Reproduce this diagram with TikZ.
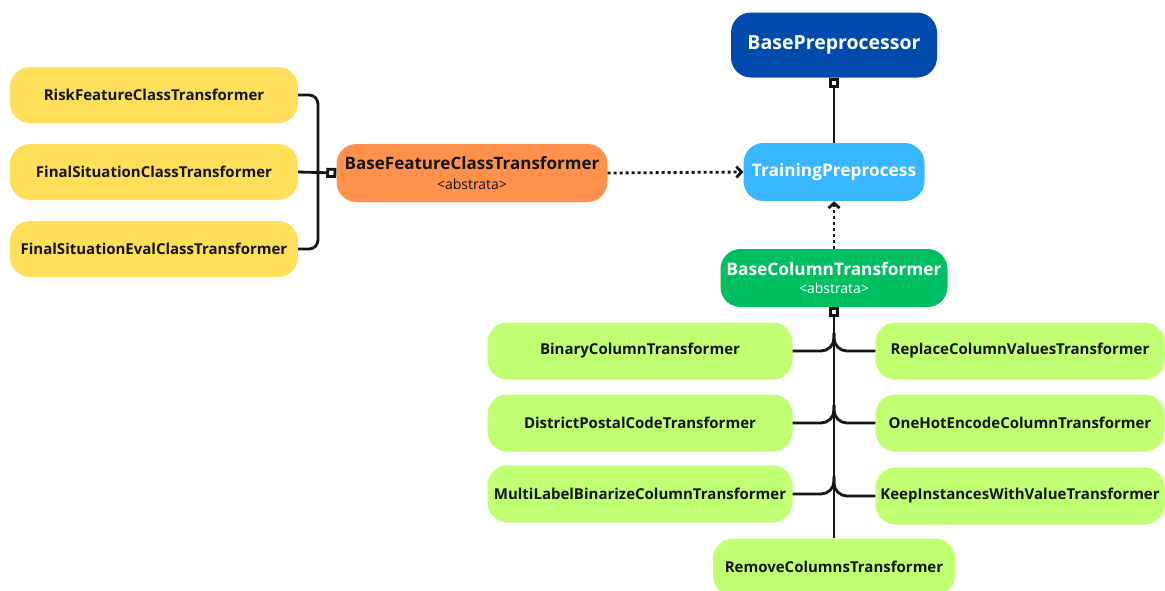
\documentclass[tikz,border=0pt]{standalone}
\usepackage{fontspec}
\setmainfont{Open Sans}
\usetikzlibrary{arrows.meta}
\definecolor{cyellow}{HTML}{FFDE59}
\definecolor{corange}{HTML}{FF914D}
\definecolor{cnavy}{HTML}{004AAD}
\definecolor{csky}{HTML}{38B6FF}
\definecolor{cgreen}{HTML}{00BF63}
\definecolor{clime}{HTML}{C1FF72}
\definecolor{cink}{HTML}{141414}

\begin{document}
\begin{tikzpicture}[x=1pt, y=-1pt, >={Straight Barb[length=5pt,width=11pt]},
    box/.style={rounded corners=20pt, inner sep=0pt, align=center, text=cink,
      font=\bfseries\fontsize{15}{18}\selectfont},
    ybox/.style={box, fill=cyellow, minimum width=288, minimum height=56},
    lbox/.style={box, fill=clime, minimum height=57},
    wire/.style={draw=cink, line width=2.8pt},
    dots/.style={wire, dash pattern=on 3pt off 3pt},
    agg/.style={-{Square[open,length=10pt,width=10pt]}},
    gagg/.style={{Square[open,length=10pt,width=10pt]}-}]
  \useasboundingbox (0,0) rectangle (1165,590);

  % left group
  \node[ybox] (risk) at (154,95) {RiskFeatureClassTransformer};
  \node[ybox] (finsit) at (154,172) {FinalSituationClassTransformer};
  \node[ybox] (fineval) at (154,249) {FinalSituationEvalClassTransformer};
  \node[box, fill=corange, minimum width=271, minimum height=58, font=\bfseries\fontsize{17}{22}\selectfont]
    (bfct) at (472,173) {BaseFeatureClassTransformer\\[-2pt]{\normalfont\fontsize{14}{15}\selectfont <abstrata>}};

  % top
  \node[box, fill=cnavy, text=white, minimum width=206, minimum height=65, font=\bfseries\fontsize{19.5}{22}\selectfont]
    (bprep) at (834,45) {BasePreprocessor};
  \node[box, fill=csky, text=white, minimum width=181, minimum height=58, font=\bfseries\fontsize{17.3}{20}\selectfont]
    (tprep) at (834,172) {TrainingPreprocess};
  \node[box, fill=cgreen, text=white, minimum width=227, minimum height=58, font=\bfseries\fontsize{17.3}{21}\selectfont]
    (bct) at (834,278) {BaseColumnTransformer\\[-3pt]{\normalfont\fontsize{14}{15}\selectfont <abstrata>}};

  % column transformers
  \node[lbox, minimum width=305] (binc) at (640,351) {BinaryColumnTransformer};
  \node[lbox, minimum width=305] (dpc) at (640,423) {DistrictPostalCodeTransformer};
  \node[lbox, minimum width=305] (mlb) at (640,494) {MultiLabelBinarizeColumnTransformer};
  \node[lbox, minimum width=289] (rcv) at (1020,351) {ReplaceColumnValuesTransformer};
  \node[lbox, minimum width=289] (ohe) at (1020,423) {OneHotEncodeColumnTransformer};
  \node[lbox, minimum width=289] (kiv) at (1020,496) {KeepInstancesWithValueTransformer};
  \node[lbox, minimum width=242] (rmc) at (834,567) {RemoveColumnsTransformer};

  \coordinate (bus) at (318,172);
  \draw[wire, rounded corners=9] (risk.east) -| (bus);
  \draw[wire, rounded corners=9] (fineval.east) -| (bus);
  \draw[wire, agg] (finsit.east) -- (bfct.west);

  \draw[dots, ->] (bfct.east) -- (tprep.west);
  \draw[wire, agg] (tprep.north) -- (bprep.south);
  \draw[dots, ->] (bct.north) -- (tprep.south);

  \draw[wire, gagg] (bct.south) -- (rmc.north);
  \foreach \n in {binc,dpc,mlb}
    \draw[wire, rounded corners=13] (\n.east) -| ([yshift=18pt]\n.center -| bct.south);
  \foreach \n in {rcv,ohe,kiv}
    \draw[wire, rounded corners=13] (\n.west) -| ([yshift=18pt]\n.center -| bct.south);
\end{tikzpicture}
\end{document}
